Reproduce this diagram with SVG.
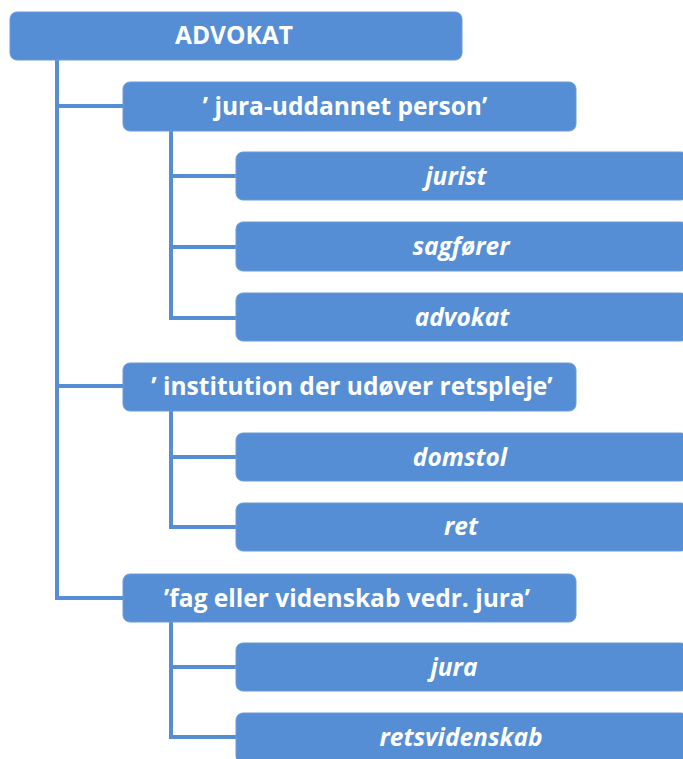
<svg xmlns="http://www.w3.org/2000/svg" width="683" height="759" viewBox="0 0 683 759">
<style>
.box{fill:#558ed5;stroke:#6a9bdb;stroke-width:1}
.t{fill:#ffffff;font-family:"Open Sans",Lato,"Liberation Sans",sans-serif;font-weight:bold;text-anchor:middle;dominant-baseline:central}
.t0{font-size:24.5px}
.t1{font-size:24.5px}
.t2{font-size:24.5px;font-style:italic}
.c{fill:none;stroke:#558ed5;stroke-width:4;stroke-linejoin:miter}
</style>
<rect width="683" height="759" fill="#ffffff"/>
<g id="connectors">
<path class="c" d="M57 60 V598 H123"/>
<path class="c" d="M57 106 H123"/>
<path class="c" d="M57 386 H123"/>
<path class="c" d="M171 131 V318 H236"/>
<path class="c" d="M171 176 H236"/>
<path class="c" d="M171 247 H236"/>
<path class="c" d="M171 411 V527 H236"/>
<path class="c" d="M171 457 H236"/>
<path class="c" d="M171 622 V737 H236"/>
<path class="c" d="M171 667 H236"/>
</g>
<g id="n0"><rect class="box" x="10" y="12" width="452" height="48" rx="7"/><text class="t t0" x="234" y="34">ADVOKAT</text></g>
<g id="n1"><rect class="box" x="123" y="82" width="453" height="49" rx="7"/><text class="t t1" x="345" y="105">’ jura-uddannet person’</text></g>
<g id="n1a"><rect class="box" x="236" y="152" width="452" height="48" rx="7"/><text class="t t2" x="456" y="175">jurist</text></g>
<g id="n1b"><rect class="box" x="236" y="222" width="452" height="49" rx="7"/><text class="t t2" x="461" y="245">sagfører</text></g>
<g id="n1c"><rect class="box" x="236" y="293" width="452" height="48" rx="7"/><text class="t t2" x="462" y="316">advokat</text></g>
<g id="n2"><rect class="box" x="123" y="363" width="453" height="48" rx="7"/><text class="t t1" x="352" y="385">’ institution der udøver retspleje’</text></g>
<g id="n2a"><rect class="box" x="236" y="433" width="452" height="48" rx="7"/><text class="t t2" x="460" y="456">domstol</text></g>
<g id="n2b"><rect class="box" x="236" y="503" width="452" height="48" rx="7"/><text class="t t2" x="461" y="525">ret</text></g>
<g id="n3"><rect class="box" x="123" y="574" width="453" height="48" rx="7"/><text class="t t1" x="347" y="597">’fag eller videnskab vedr. jura’</text></g>
<g id="n3a"><rect class="box" x="236" y="643" width="452" height="48" rx="7"/><text class="t t2" x="454" y="666">jura</text></g>
<g id="n3b"><rect class="box" x="236" y="713" width="452" height="50" rx="7"/><text class="t t2" x="461" y="736">retsvidenskab</text></g>
</svg>
